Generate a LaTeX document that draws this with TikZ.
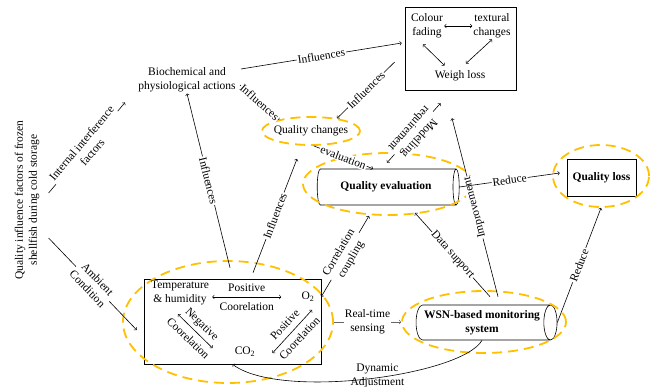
\documentclass[tikz,border=0pt]{standalone}
\usepackage{fontspec}
\setmainfont{Liberation Serif}
\usepackage{tikz}
\usetikzlibrary{arrows,shapes.geometric,calc}
\definecolor{ringgold}{HTML}{FFC000}
\newcommand{\diafont}{\fontsize{11.5}{14}\selectfont}

\begin{document}
\begin{tikzpicture}[x=1pt,y=-1pt,font=\diafont,>=to,line width=0.6pt]
\tikzstyle{ring}=[ellipse,draw=ringgold,line width=1.8pt,dash pattern=on 10pt off 6pt,inner sep=0pt]
\tikzstyle{pipe}=[cylinder,shape border rotate=0,aspect=0.5,draw,font=\diafont\bfseries,align=center,inner sep=1pt]
\tikzstyle{lbl}=[fill=white,inner sep=1pt,sloped,align=center]
\tikzstyle{plain}=[inner sep=1pt,align=center]
\tikzstyle{pair}=[inner sep=0pt,sloped,align=center]
\useasboundingbox (0,0) rectangle (659,387);

% factors
\node[plain,rotate=90] (title) at (27,200) {Quality influence factors of frozen\\shellfish during cold storage};
\node[plain] (bio) at (187,80) {Biochemical and\\physiological actions};

% quality attributes
\node[draw,minimum width=111pt,minimum height=83pt] (box) at (460.5,48.5) {};
\node[plain] (colour) at (427,26) {Colour\\fading};
\node[plain] (textural) at (492,26) {textural\\changes};
\node[plain] (weigh) at (460,76) {Weigh loss};
\draw[<->] (colour.east) -- (textural.west);
\draw[<->] ($(colour.south)+(-4,5)$) -- ($(weigh.north west)+(11,-4)$);
\draw[<->] (textural.south) -- ($(weigh.north)+(6,-6)$);

\node[ring,inner xsep=-4pt,minimum width=98pt,minimum height=28pt] (qchange) at (311,131) {Quality changes};
\node[pipe,minimum height=142pt,minimum width=36pt] (qeval) at (386,187) {Quality evaluation};
\node[ring,minimum width=170pt,minimum height=62pt] (qevalR) at (388,184) {};
\node[draw,minimum width=69pt,minimum height=37pt,font=\diafont\bfseries] (qloss) at (601.5,177.5) {Quality loss};
\node[ring,minimum width=96pt,minimum height=62pt] (qlossR) at (601,176) {};

% environment
\node[draw,minimum width=177pt,minimum height=85pt] (env) at (232.5,321.5) {};
\node[ring,minimum width=210pt,minimum height=122pt] (envR) at (228,322) {};
\node[plain] (temp) at (180,293) {Temperature\\\& humidity};
\node[plain] (o2) at (308,297) {O\textsubscript{2}};
\node[plain] (co2) at (245,352) {CO\textsubscript{2}};
\draw[<->] ($(temp.east)+(2,4)$) -- node[pair]{Positive\\[5pt]Coorelation} ($(o2.west)+(-19,0)$);
\draw[<->] ($(temp.south)+(-2,8)$) -- node[pair]{Negative\\[6pt]Coorelation} ($(co2.west)+(-21,-4)$);
\draw[<->] ($(co2.east)+(16,1)$) -- node[pair]{Positive\\[6pt]Coorelation} ($(o2.south)+(4,7)$);

% monitoring
\node[pipe,minimum height=141pt,minimum width=35pt] (wsn) at (482,322.5) {WSN-based monitoring\\system};
\node[ring,minimum width=164pt,minimum height=62pt] (wsnR) at (484,322) {};

% links
\draw[->] ($(title.south)+(8,-7)$) -- node[lbl]{Internal interference\\factors} ($(bio.south west)+(-12,9)$);
\draw[->] ($(title.south)+(8,38)$) -- node[lbl]{Ambient\\Condition} ($(env.west)+(-7,8.5)$);
\draw[->] ($(bio.east)+(4,-11)$) -- node[lbl]{Influences} ($(box.west)+(-3,-5.5)$);
\draw[->] ($(bio.east)+(3,5)$) -- node[lbl]{Influences} (qchange.160);
\draw[->] ($(box.west)+(-10,13.5)$) -- node[lbl]{Influences} (qchange.26);
\draw[->] (qchange.-80) -- node[lbl]{evaluation} ($(qeval.north)+(-13,0)$);
\draw[<->] ($(box.south)+(-20,13)$) -- node[lbl,allow upside down]{Modelling\\requirement} ($(qeval.north)+(1,-6)$);
\draw[->] ($(wsn.north)+(16,-8)$) -- node[lbl,allow upside down]{Improvement} ($(box.south)+(-8.5,28)$);
\draw[->] (qeval.east) -- node[lbl]{Reduce} ($(qloss.west)+(-7,-4.5)$);
\draw[->] ($(env.north)+(-2.5,-11)$) -- node[lbl]{Influences} (bio.south);
\draw[->] ($(env.north)+(20.5,-6)$) -- node[lbl]{Influences} ($(qchange.south)+(-14,13)$);
\draw[<->] ($(env.north east)+(0,18)$) -- node[lbl]{Correlation\\coupling} ($(qevalR.south)+(-19,0)$);
\draw[->] ($(wsn.north)+(8,-8)$) -- node[lbl]{Data support} ($(qevalR.south)+(27,-3)$);
\draw[->,black!60] (envR.east) -- node[fill=white,plain,text=black]{Real-time\\sensing} (wsnR.west);
\draw[->] (wsn.east) -- node[lbl]{Reduce} (qlossR.south);
\draw[->] (wsn.south) .. controls +(-20,35) and +(48,36) .. node[pos=0.47,plain,yshift=2pt]{Dynamic\\Adjustment} (env.south);
\end{tikzpicture}
\end{document}
